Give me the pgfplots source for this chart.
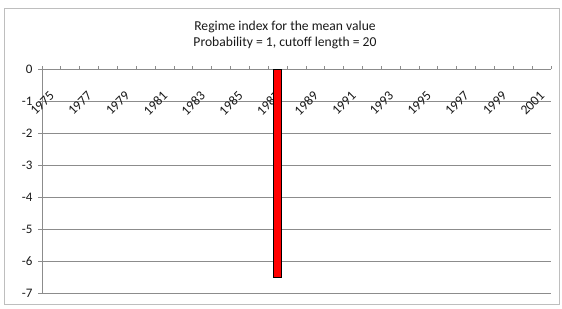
\documentclass[border=0pt]{standalone}
\usepackage{fontspec}
\setmainfont{Carlito}
\usepackage{pgfplots}
\pgfplotsset{compat=1.18}
\definecolor{gridgray}{RGB}{140,140,140}
\definecolor{framegray}{RGB}{190,190,190}
\begin{document}
\begin{tikzpicture}
\useasboundingbox (0,0) rectangle (562pt,-308pt);
\draw[color=framegray, line width=1pt] (4pt,-8pt) rectangle (559pt,-304pt);
\node[font=\fontsize{13.6}{16.5}\selectfont, align=center, text=black!90] at (285pt,-35pt) {Regime index for the mean value\\Probability = 1, cutoff length = 20};
\begin{axis}[
  at={(42pt,-293pt)}, anchor=south west,
  scale only axis, width=509pt, height=224pt,
  xmin=-0.5, xmax=26.5, ymin=-7, ymax=0,
  axis x line*=top, axis y line*=left,
  axis line style={-, gridgray, line width=1pt},
  tick align=outside,
  xtick={0,2,...,26},
  xticklabels={1975,1977,1979,1981,1983,1985,1987,1989,1991,1993,1995,1997,1999,2001},
  major x tick style={draw=none},
  minor xtick={-0.5,0.5,...,26.5},
  minor tick length=3pt,
  minor x tick style={gridgray, line width=0.8pt},
  xticklabel style={font=\fontsize{13.5}{15}\selectfont, text=black!90, anchor=east, xshift=3pt, yshift=-26pt, rotate=45},
  ytick={-7,-6,-5,-4,-3,-2,-1,0},
  yticklabels={-7,-6,-5,-4,-3,-2,-1,0},
  major tick length=4pt,
  major y tick style={gridgray, line width=0.8pt},
  yticklabel style={font=\fontsize{13}{15}\selectfont, text=black!90, xshift=-2pt},
  ymajorgrids,
  grid style={gridgray, line width=1pt},
]
\addplot[ybar, bar width=8pt, fill=red, draw=black, line width=0.8pt] coordinates {(12,-6.5)};
\end{axis}
\end{tikzpicture}
\end{document}
